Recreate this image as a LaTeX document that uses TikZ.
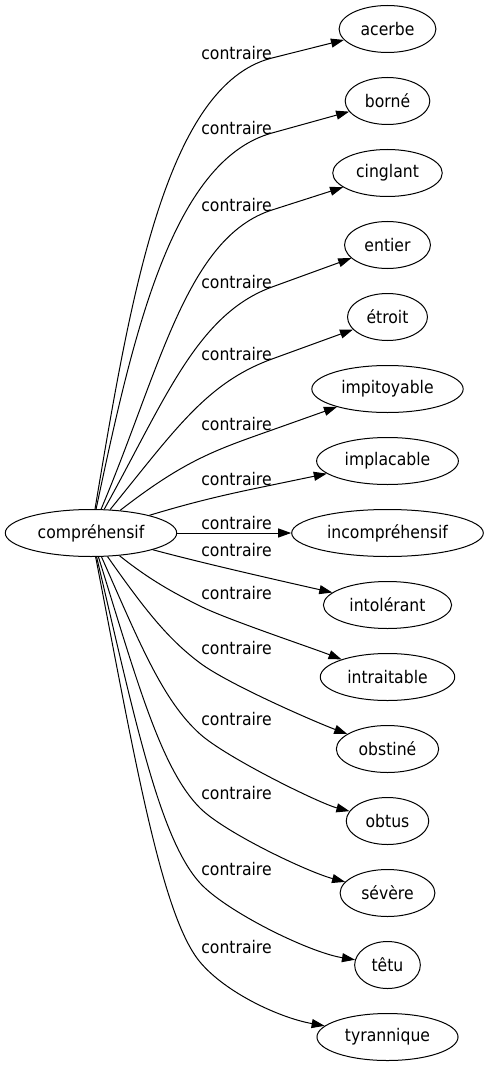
\documentclass[tikz,border=0pt]{standalone}
\usepackage{fontspec}
\newfontfamily\gvfont[FakeStretch=0.9]{DejaVu Sans}
\newcommand\gvtext{\gvfont\fontsize{17.4}{20}\selectfont}
\usetikzlibrary{shapes.geometric,arrows.meta}
\tikzset{
  word/.style={ellipse, draw, line width=1pt, inner xsep=7.3pt, inner ysep=0pt, minimum height=47pt, font=\gvtext},
  rel/.style={font=\gvtext, inner sep=0pt},
  link/.style={-{Triangle[length=13pt,width=9pt]}, line width=1pt},
}
\begin{document}
\begin{tikzpicture}[x=1pt,y=-1pt]
\useasboundingbox (0,0) rectangle (488,1067);
\node[word] (s) at (91,533) {compréhensif};
\node[word] (t1) at (387.5,29) {acerbe};
\node[word] (t2) at (387.5,101) {borné};
\node[word] (t3) at (387.5,173) {cinglant};
\node[word] (t4) at (387.5,245) {entier};
\node[word] (t5) at (387.5,317) {étroit};
\node[word] (t6) at (387.5,389) {impitoyable};
\node[word] (t7) at (387.5,461) {implacable};
\node[word] (t8) at (387.5,533) {incompréhensif};
\node[word] (t9) at (387.5,605) {intolérant};
\node[word] (t10) at (387.5,677) {intraitable};
\node[word] (t11) at (387.5,749) {obstiné};
\node[word] (t12) at (387.5,821) {obtus};
\node[word] (t13) at (387.5,893) {sévère};
\node[word] (t14) at (387.5,965) {têtu};
\node[word] (t15) at (387.5,1037) {tyrannique};
\foreach \i/\y in {1/53,2/128,3/205,4/282,5/354,6/424,7/479,8/523,9/550,10/593,11/648,12/719,13/793,14/869,15/947}
  \node[rel] (l\i) at (236.5,\y) {contraire};
% upper edges
\draw[link] (s) .. controls (130,300) and (165.3,84.8) .. (272,58) -- (t1);
\draw[link] (s) .. controls (132,340) and (170.8,161) .. (272,133) -- (t2);
\draw[link] (s) .. controls (160,370) and (186.3,237.5) .. (272,210) -- (t3);
\draw[link] (s) .. controls (165,400) and (196.8,314.4) .. (272,287) -- (t4);
\draw[link] (s) .. controls (175,430) and (206.2,383) .. (272,359) -- (t5);
\draw[link] (s) .. controls (185,460) and (215.5,450) .. (272,430) -- (t6);
\draw[link] (s) .. controls (200,500) and (232.8,493.1) .. (272,485) -- (t7);
\draw[link] (s) -- (t8);
% lower edges
\draw[link] (s) .. controls (200,562.5) and (272.5,579) .. (t9);
\draw[link] (s) .. controls (150,580) and (173.2,592.6) .. (200,606) .. controls (226.8,619.4) and (308.3,646.6) .. (t10);
\draw[link] (s) .. controls (145,610) and (168,639) .. (200,663) .. controls (228,684) and (314.7,721.8) .. (t11);
\draw[link] (s) .. controls (140,644) and (162.8,700.6) .. (200,734) .. controls (226,757.4) and (319.5,803.4) .. (t12);
\draw[link] (s) .. controls (137,681) and (161,769) .. (200,808) .. controls (224.7,832.7) and (308.3,872.2) .. (t13);
\draw[link] (s) .. controls (135,720) and (159.6,838.6) .. (200,883) .. controls (225.6,911.1) and (308.3,952.2) .. (t14);
\draw[link] (s) .. controls (135,760) and (161.6,915.9) .. (200,962) .. controls (225.6,992.7) and (279.5,1017.8) .. (t15);
\end{tikzpicture}
\end{document}
